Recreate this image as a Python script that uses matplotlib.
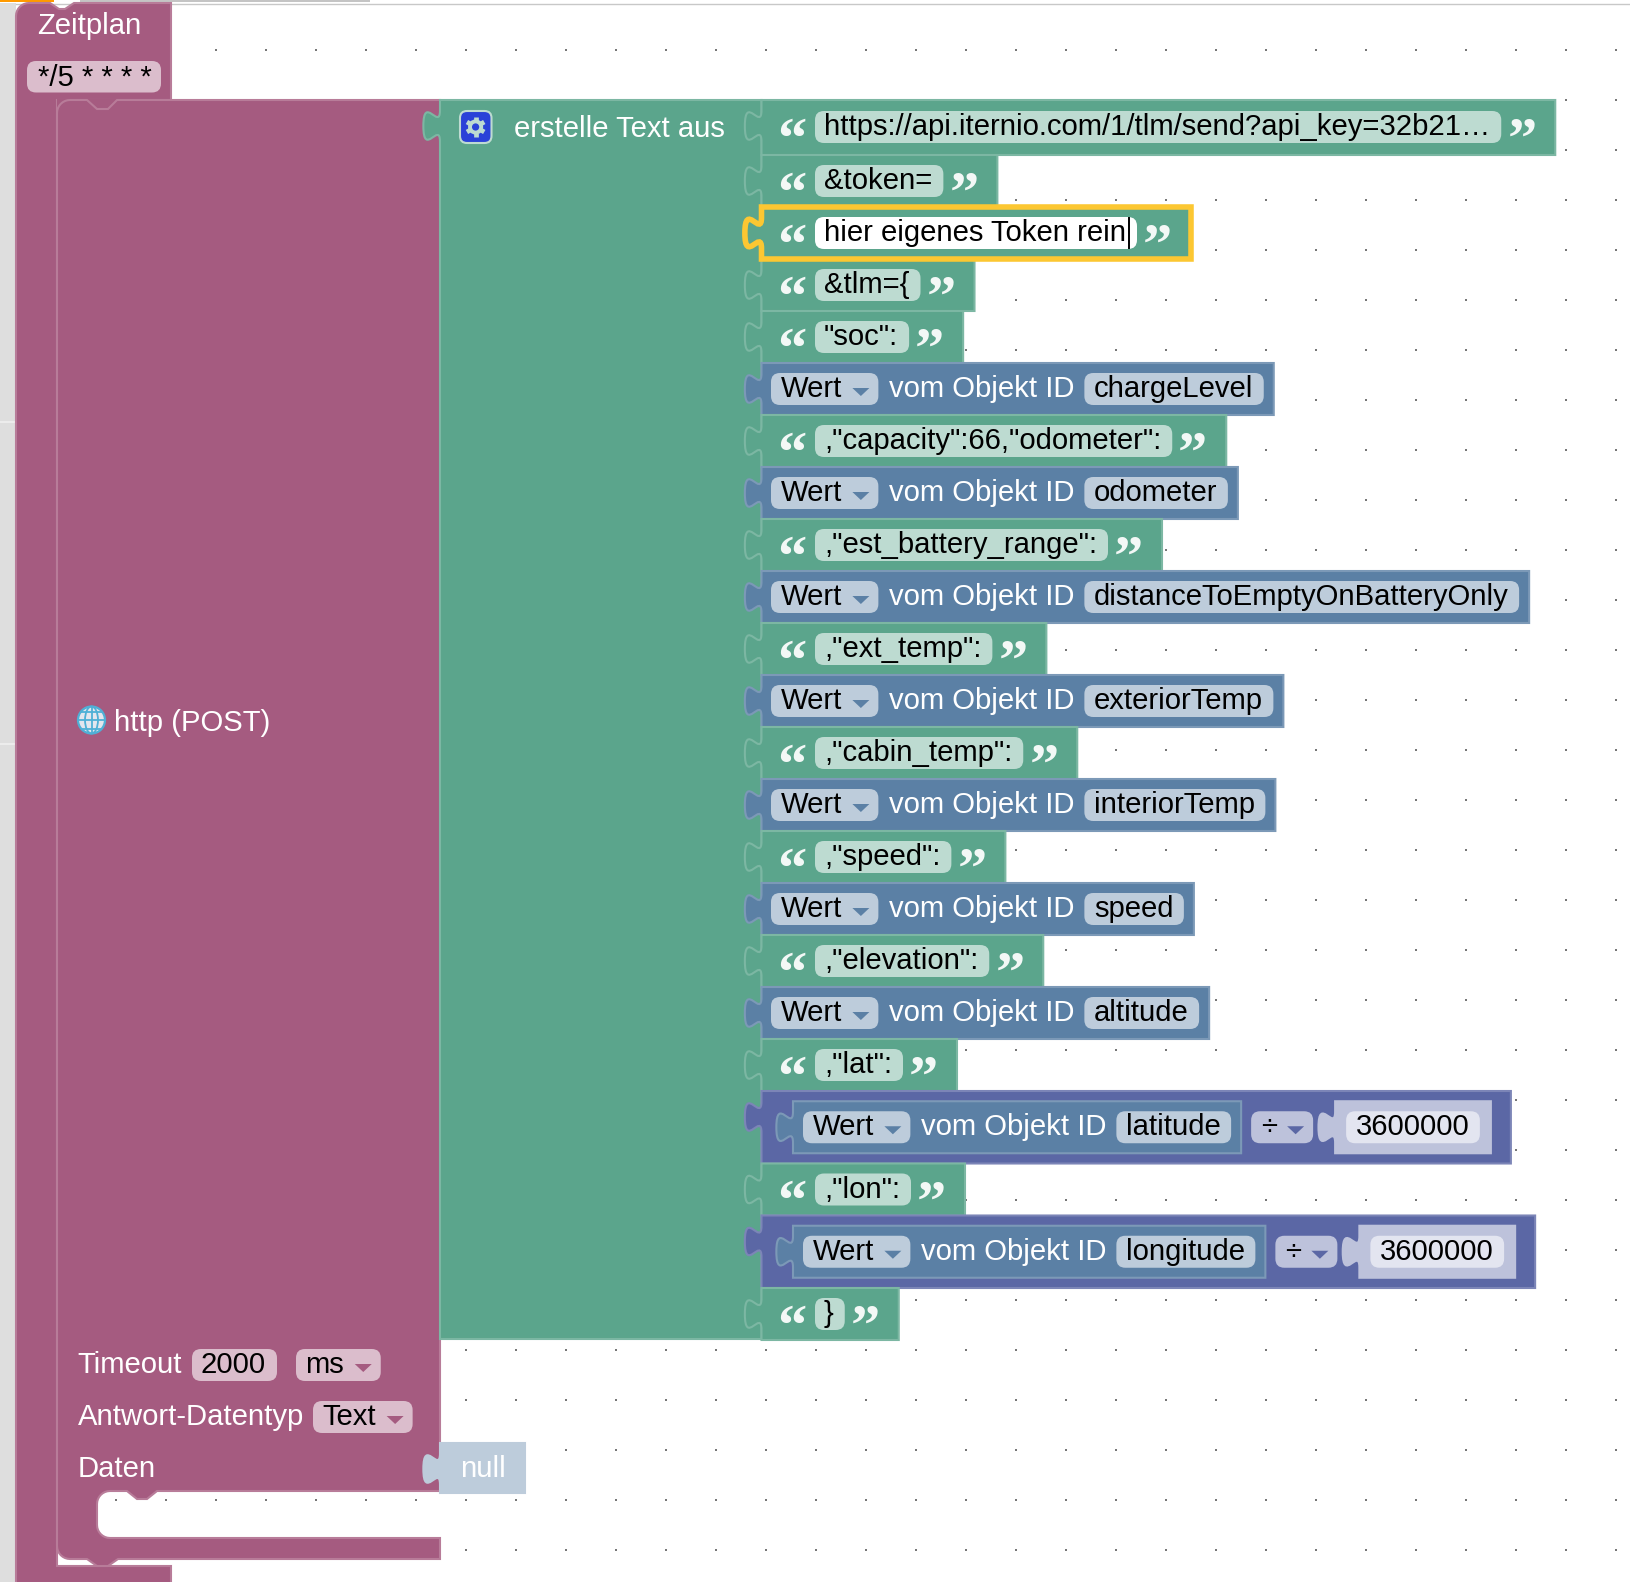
import numpy as np
import matplotlib
matplotlib.use("Agg")
import matplotlib.pyplot as plt
from matplotlib.patches import FancyBboxPatch, PathPatch, Polygon, Circle, Ellipse, Rectangle
from matplotlib.path import Path

W, H = 1630, 1582
FONT = "Liberation Sans"
FS = 21.05  # about 29 px at 100 dpi
ROW_X = 761.5

# block contents, top to bottom
row_kinds = ["text", "text", "edit", "text", "text", "value", "text", "value", "text", "value", "text",
             "value", "text", "value", "text", "value", "text", "value", "text", "math", "text", "math", "text"]
row_labels = ["https://api.iternio.com/1/tlm/send?api_key=32b21…", "&token=", "hier eigenes Token rein", "&tlm={",
              "\"soc\":", "chargeLevel", ",\"capacity\":66,\"odometer\":", "odometer", ",\"est_battery_range\":",
              "distanceToEmptyOnBatteryOnly", ",\"ext_temp\":", "exteriorTemp", ",\"cabin_temp\":", "interiorTemp",
              ",\"speed\":", "speed", ",\"elevation\":", "altitude", ",\"lat\":", "latitude", ",\"lon\":", "longitude", "}"]
math_op = "÷"
math_divisor = "3600000"
schedule = "*/5 * * * *"
timeout_value = "2000"
timeout_unit = "ms"
response_type = "Text"

PURPLE, PURPLE_L, PURPLE_F = "#a55b80", "#b87c99", "#dbbdcc"
GREEN, GREEN_L, GREEN_F = "#5ba58c", "#7cb7a3", "#bddbd1"
BLUE, BLUE_L, BLUE_F = "#5b80a5", "#7c99b7", "#bdccdb"
MATH, MATH_L, MATH_F = "#5b67a5", "#7c85b7", "#bdc2db"
YELLOW = "#fcc732"
GLOBE = "#4fb0d6"

fig, ax = plt.subplots(figsize=(W / 100, H / 100), dpi=100)
fig.subplots_adjust(0, 0, 1, 1)
ax.set_xlim(0, W)
ax.set_ylim(H, 0)
ax.axis("off")
renderer = fig.canvas.get_renderer()


def label(x, y, s, color="white", **kw):
    return ax.text(x, y + 1, s, color=color, family=FONT, fontsize=FS, ha="left", va="baseline", **kw)


def text_width(s):
    t = label(0, 0, s)
    w = t.get_window_extent(renderer).width
    t.remove()
    return w


def pill(x0, y0, x1, y1, fc, r=9, z=3, **kw):
    ax.add_patch(FancyBboxPatch((x0, y0), x1 - x0, y1 - y0, boxstyle=f"round,pad=0,rounding_size={r}",
                                fc=fc, lw=kw.pop("lw", 0), zorder=z, **kw))


def tabbed_path(x0, y0, x1, y1, s=2.08):
    # rectangle with the puzzle tab sticking out of its left side
    ty = y0 + 5 * s
    verts = [(x0, y0), (x0, ty),
             (x0, ty + 10 * s), (x0 - 8 * s, ty - 8 * s), (x0 - 8 * s, ty + 7.5 * s),
             (x0 - 8 * s, ty + 23 * s), (x0, ty + 5 * s), (x0, ty + 15 * s),
             (x0, y1), (x1, y1), (x1, y0), (x0, y0)]
    codes = [Path.MOVETO, Path.LINETO] + [Path.CURVE4] * 6 + [Path.LINETO, Path.LINETO, Path.LINETO, Path.CLOSEPOLY]
    return Path(verts, codes)


def block(x0, y0, x1, y1, fc, ec, z=2, lw=1.5):
    ax.add_patch(PathPatch(tabbed_path(x0, y0, x1, y1), fc=fc, ec=ec, lw=lw, zorder=z))


def arrow(x0, yc, color, z=4):
    ax.add_patch(Polygon([(x0, yc - 1), (x0 + 17, yc - 1), (x0 + 8.5, yc + 7)], fc=color, lw=0, zorder=z))


def dropdown(x0, yc, s, fc, arrow_color):
    # field with a small arrow, returns its right end
    x1 = x0 + 10 + text_width(s) + 36
    pill(x0, yc - 16, x1, yc + 16, fc)
    label(x0 + 9.5, yc + 7, s, color="black", zorder=5)
    arrow(x1 - 26, yc, arrow_color)
    return x1


def value_fields(x0, yc, name):
    x = dropdown(x0, yc, "Wert", BLUE_F, BLUE)
    label(x + 11, yc + 7, "vom Objekt ID", zorder=5)
    x += 11 + text_width("vom Objekt ID") + 9.5
    x1 = x + 20 + text_width(name)
    pill(x, yc - 16, x1, yc + 16, BLUE_F)
    label(x + 9.5, yc + 7, name, color="black", zorder=5)
    return x1


def quote(x, yc, s, z=5):
    ax.text(x, yc + 30, s, color="#f3f8f6", family="Liberation Serif", weight="bold", fontsize=42, ha="left",
            va="baseline", zorder=z)


def corner(cx, cy, r, a0, a1):
    # points along a rounded corner, angles in degrees
    return [(cx + r * np.cos(a), cy + r * np.sin(a)) for a in np.radians(np.linspace(a0, a1, 9))]


# canvas
ax.add_patch(Rectangle((0, 3), 16, H, fc="#dedede", lw=0, zorder=0))
ax.add_patch(Rectangle((0, 421), 15, 1.5, fc="#ececec", lw=0, zorder=0.1))
ax.add_patch(Rectangle((0, 743), 15, 1.5, fc="#ececec", lw=0, zorder=0.1))
ax.plot([16, W], [3.5, 3.5], color="#c8c8c8", lw=1, zorder=0)
ax.add_patch(Rectangle((0, 0), 54, 2, fc="#ff9a00", lw=0, zorder=1))
ax.add_patch(Rectangle((80, 0), 290, 2, fc="#c4c4c4", lw=0, zorder=1))
gx, gy = np.meshgrid(np.arange(16, W, 50), np.arange(49.6, H, 50))
ax.scatter(gx, gy, s=3, marker="s", color="#777777", lw=0, zorder=0.5)

# schedule block with the statement slot
outer = corner(29, 16, 13, 180, 270) + [(50, 3), (59, 9), (65, 9), (74, 3), (171, 3), (171, 100), (57, 100), (57, 1566),
                                        (171, 1566), (171, 1590), (16, 1590)]
ax.add_patch(Polygon(outer, fc=PURPLE, ec=PURPLE_L, lw=1.5, zorder=1))
ax.add_patch(Rectangle((57, 99), 75, 16, fc=PURPLE, lw=0, zorder=1.2))
label(37.5, 33.5, "Zeitplan", zorder=5)
pill(27, 61, 161, 92.5, PURPLE_F)
label(38, 85, schedule, color="black", zorder=5)

# http block
http = (corner(70, 113, 13, 180, 270)
        + [(87, 100), (97, 109), (108, 109), (117, 100), (440, 100), (440, 1491), (157, 1491), (147, 1499), (137, 1499),
           (127, 1491)]
        + corner(110, 1504, 13, 270, 180) + corner(110, 1525, 13, 180, 90)
        + [(440, 1538), (440, 1559), (118, 1559), (108, 1566), (97, 1566), (87, 1559)]
        + corner(70, 1546, 13, 90, 180))
ax.add_patch(Polygon(http, fc=PURPLE, ec=PURPLE_L, lw=1.5, zorder=1.5))

# globe icon
globe_clip = Circle((91.5, 720), 13.5, transform=ax.transData)
ax.add_patch(Circle((91.5, 720), 13.5, fc="#e4e6ee", ec=GLOBE, lw=1.6, zorder=4))
ax.add_patch(Ellipse((91.5, 720), 13, 27, fc="none", ec=GLOBE, lw=1.3, zorder=4))
for ly in (711.5, 720, 728.5):
    ln, = ax.plot([78, 105], [ly, ly], color=GLOBE, lw=1.3, zorder=4)
    ln.set_clip_path(globe_clip)
ax.plot([91.5, 91.5], [707, 733], color=GLOBE, lw=1.3, zorder=4)
label(114.5, 730, "http (POST)", zorder=5)

label(77.5, 1372, "Timeout", zorder=5)
pill(192, 1349, 277, 1381, PURPLE_F)
label(201, 1372, timeout_value, color="black", zorder=5)
dropdown(296, 1365, timeout_unit, PURPLE_F, PURPLE)
label(77.5, 1424, "Antwort-Datentyp", zorder=5)
dropdown(313, 1417, response_type, PURPLE_F, PURPLE)
label(77.5, 1476, "Daten", zorder=5)
block(440, 1443, 525, 1493, BLUE_F, BLUE_F)
label(460, 1476, "null", zorder=5)

# text join block
block(440, 100, ROW_X, 1339, GREEN, GREEN_L, z=1.8)
pill(460, 111, 491.5, 143, "#2a42d8", r=7, ec="#bddbd1", lw=1.5)
ax.add_patch(Circle((475.6, 127), 5.6, fc="none", ec=GREEN_F, lw=2.8, zorder=5))
for a in np.radians(np.arange(30, 390, 60)):
    ax.plot([475.6 + 6 * np.cos(a), 475.6 + 10 * np.cos(a)], [127 + 6 * np.sin(a), 127 + 10 * np.sin(a)],
            color=GREEN_F, lw=3.4, solid_capstyle="butt", zorder=5)
label(513.5, 136, "erstelle Text aus", zorder=5)

top = 100
for i, (kind, name) in enumerate(zip(row_kinds, row_labels)):
    h = 55 if i == 0 else (72.5 if kind == "math" else 52)
    yc = top + (27 if i == 0 else h / 2)
    if kind in ("text", "edit"):
        x = 815 + 20 + text_width(name)
        x1 = x + 54
        z = 6 if kind == "edit" else 2 + i * 0.01
        if kind == "edit":
            block(ROW_X, top, x1, top + h, GREEN, YELLOW, z=z, lw=4)
        else:
            block(ROW_X, top, x1, top + h, GREEN, GREEN_L, z=z)
        pill(815, yc - 16, x, yc + 16, "white" if kind == "edit" else GREEN_F, z=z + 0.1)
        label(824, yc + 7, name, color="black", zorder=z + 0.2)
        quote(777, yc, "“", z=z + 0.2)
        quote(x + 6, yc, "”", z=z + 0.2)
        if kind == "edit":
            ax.plot([x - 8, x - 8], [yc - 15, yc + 15], color="black", lw=1.4, zorder=z + 0.3)
    elif kind == "value":
        x1 = value_fields(771, yc, name) + 10
        block(ROW_X, top, x1, top + h, BLUE, BLUE_L, z=2 + i * 0.01)
    else:
        inner1 = value_fields(803, yc, name) + 10
        op1 = dropdown(inner1 + 10, yc, math_op, MATH_F, MATH)
        num0 = op1 + 22
        num1 = num0 + 11 + 20 + text_width(math_divisor) + 11
        x1 = num1 + 20
        block(ROW_X, top, x1, top + h, MATH, MATH_L, z=2 + i * 0.01)
        block(793, yc - 26, inner1, yc + 26, BLUE, BLUE_L, z=2.5)
        block(num0, yc - 26, num1, yc + 26, MATH_F, MATH_F, z=2.5)
        pill(num0 + 11, yc - 16, num1 - 11, yc + 16, "#e3e5f0")
        label(num0 + 20.5, yc + 7, math_divisor, color="black", zorder=5)
    top += h

fig.savefig("out.png", dpi=100)
